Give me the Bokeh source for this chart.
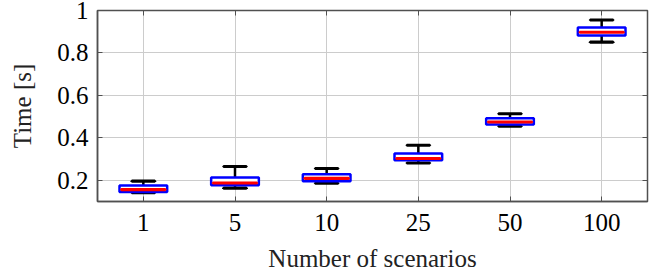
from bokeh.plotting import figure
from bokeh.models import Range1d, FixedTicker, LinearAxis, ColumnDataSource
from bokeh.embed import file_html
from bokeh.resources import INLINE

categories = ["1", "5", "10", "25", "50", "100"]
lower_whisker = [0.141, 0.163, 0.186, 0.281, 0.455, 0.851]
q1 = [0.145, 0.176, 0.195, 0.294, 0.463, 0.882]
median = [0.156, 0.187, 0.209, 0.303, 0.475, 0.898]
q3 = [0.175, 0.213, 0.228, 0.326, 0.492, 0.920]
upper_whisker = [0.196, 0.265, 0.256, 0.365, 0.514, 0.955]
y_ticks = [0.2, 0.4, 0.6, 0.8, 1.0]

FONT = "Liberation Serif"
FS = "25px"
AX = "#505050"

xs = list(range(len(categories)))
src = ColumnDataSource(dict(x=xs, lw=lower_whisker, q1=q1, med=median, q3=q3, uw=upper_whisker))

p = figure(frame_width=550, frame_height=191, output_backend="svg", toolbar_location=None,
           x_range=Range1d(-0.5, len(categories) - 0.5), y_range=Range1d(0.1, 1.0),
           min_border_left=97, min_border_top=10, min_border_right=6, min_border_bottom=4,
           x_axis_label="Number of scenarios", y_axis_label="Time [s]")
p.background_fill_color = "white"
p.border_fill_color = "white"
p.outline_line_color = AX
p.outline_line_width = 1.5

# whiskers
p.segment(x0="x", y0="uw", x1="x", y1="q3", source=src, line_color="black", line_width=2.5)
p.segment(x0="x", y0="lw", x1="x", y1="q1", source=src, line_color="black", line_width=2.5)
# caps
p.rect(x="x", y="uw", width=0.25, height=0.0001, source=src, line_color="black", line_width=3, fill_color="black")
p.rect(x="x", y="lw", width=0.25, height=0.0001, source=src, line_color="black", line_width=3, fill_color="black")
# boxes
p.vbar(x="x", width=0.52, bottom="q1", top="q3", source=src,
       fill_color="white", line_color="#0000ff", line_width=2.5)
# median
p.rect(x="x", y="med", width=0.48, height=0.0001, source=src,
       line_color="#ff0000", line_width=3, fill_color="#ff0000")

# axes styling
for ax in (p.xaxis[0], p.yaxis[0]):
    ax.axis_line_color = AX
    ax.axis_line_width = 1.5
    ax.major_tick_line_color = AX
    ax.major_tick_in = 5
    ax.major_tick_out = 0
    ax.minor_tick_line_color = None
    ax.major_label_text_font = FONT
    ax.major_label_text_font_size = FS
    ax.major_label_text_color = "black"
    ax.axis_label_text_font = FONT
    ax.axis_label_text_font_size = FS
    ax.axis_label_text_font_style = "normal"
    ax.axis_label_text_color = "#222222"

p.xaxis[0].ticker = FixedTicker(ticks=xs)
p.xaxis[0].major_label_overrides = {i: c for i, c in enumerate(categories)}
p.xaxis[0].major_label_standoff = 12
p.xaxis[0].axis_label_standoff = 11
p.yaxis[0].ticker = FixedTicker(ticks=y_ticks)
p.yaxis[0].major_label_overrides = {t: ("1" if t == 1.0 else f"{t:.1f}") for t in y_ticks}
p.yaxis[0].major_label_standoff = 9
p.yaxis[0].axis_label_standoff = 18

p.xgrid.ticker = FixedTicker(ticks=xs)
p.ygrid.ticker = FixedTicker(ticks=y_ticks)
for g in (p.xgrid[0], p.ygrid[0]):
    g.grid_line_color = "#cccccc"
    g.grid_line_width = 1

right = LinearAxis(ticker=FixedTicker(ticks=y_ticks), major_label_text_font_size="1px",
                   major_label_text_color=None,
                   axis_line_color=AX, major_tick_line_color=AX, major_tick_in=5, major_tick_out=0,
                   minor_tick_line_color=None, major_label_standoff=0)
top = LinearAxis(ticker=FixedTicker(ticks=xs), major_label_text_font_size="1px",
                 major_label_text_color=None,
                 axis_line_color=AX, major_tick_line_color=AX, major_tick_in=5, major_tick_out=0,
                 minor_tick_line_color=None, major_label_standoff=0)
p.add_layout(right, "right")
p.add_layout(top, "above")

open("out.html", "w").write(file_html(p, INLINE))
